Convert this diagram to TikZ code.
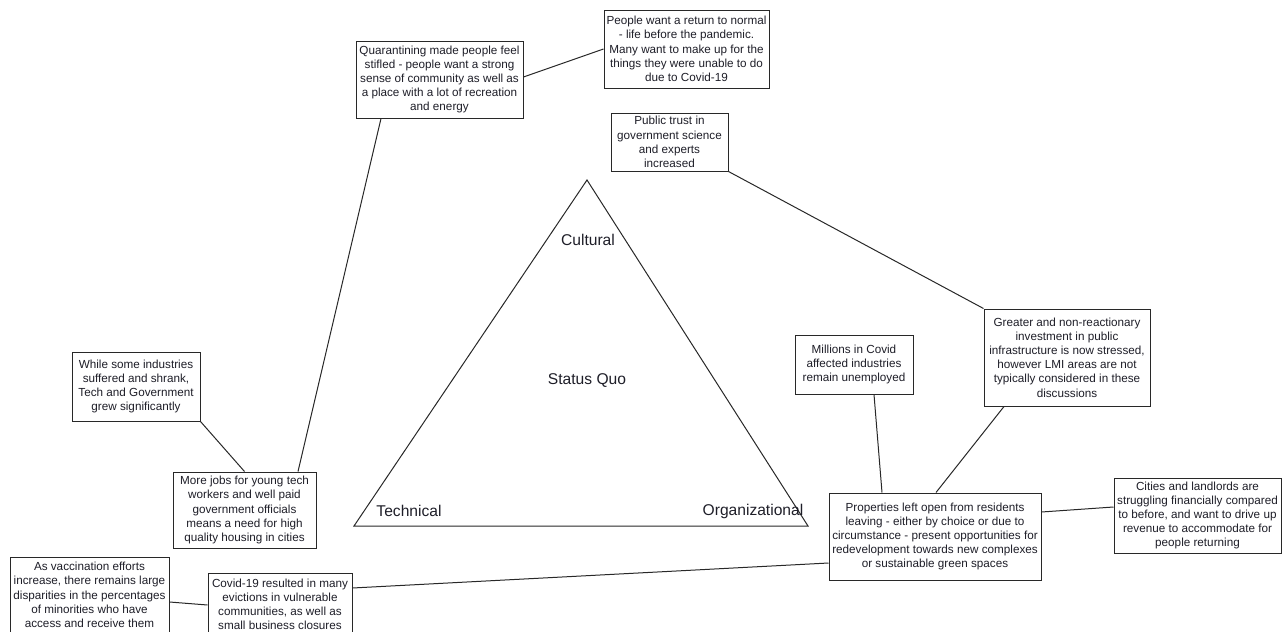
\documentclass[tikz,border=0pt]{standalone}
\usepackage{fontspec}
\setmainfont{Liberation Sans}
\begin{document}
\begin{tikzpicture}[x=1pt,y=-1pt,
  every node/.style={text=txt},
  box/.style={draw=edge,line width=1pt,fill=white,align=center,inner sep=0pt,
    font=\fontsize{11.7}{14.2}\selectfont},
  lbl/.style={font=\fontsize{15.6}{18}\selectfont,inner sep=0pt},
  conn/.style={draw=edge,line width=1pt}]
\definecolor{txt}{RGB}{30,30,40}
\definecolor{edge}{RGB}{40,40,40}
\useasboundingbox (0,0) rectangle (1283,632);
% triangle
\draw[conn] (354,526) -- (587,180) -- (808,526) -- cycle;
\node[lbl] (cul) at (588,240) {Cultural};
\node[lbl] (sq) at (587,381) {Status Quo};
\node[lbl] (tec) at (409,511) {Technical};
\node[lbl] (org) at (753,511) {Organizational};
% boxes
\node[box,minimum width=167pt,minimum height=77pt] (q) at (439.5,79.5)
  {Quarantining made people feel\\stifled - people want a strong\\sense of community as well as\\a place with a lot of recreation\\and energy};
\node[box,minimum width=165pt,minimum height=78pt] (p) at (686.5,49)
  {People want a return to normal\\- life before the pandemic.\\Many want to make up for the\\things they were unable to do\\due to Covid-19};
\node[box,minimum width=117pt,minimum height=58pt] (t) at (669.5,142)
  {Public trust in\\government science\\and experts\\increased};
\node[box,minimum width=128pt,minimum height=69pt] (w) at (136,386.5)
  {While some industries\\suffered and shrank,\\Tech and Government\\grew significantly};
\node[box,minimum width=143pt,minimum height=76pt] (m) at (244.5,510)
  {More jobs for young tech\\workers and well paid\\government officials\\means a need for high\\quality housing in cities};
\node[box,minimum width=159pt,minimum height=76pt] (v) at (89.5,595)
  {As vaccination efforts\\increase, there remains large\\disparities in the percentages\\of minorities who have\\access and receive them};
\node[box,minimum width=144pt,minimum height=63pt] (c) at (280,604.5)
  {Covid-19 resulted in many\\evictions in vulnerable\\communities, as well as\\small business closures};
\node[box,minimum width=118pt,minimum height=59pt] (mi) at (854,364.5)
  {Millions in Covid\\affected industries\\remain unemployed};
\node[box,minimum width=166pt,minimum height=97pt] (g) at (1067,357.5)
  {Greater and non-reactionary\\investment in public\\infrastructure is now stressed,\\however LMI areas are not\\typically considered in these\\discussions};
\node[box,minimum width=212pt,minimum height=87pt] (pr) at (935,536.5)
  {Properties left open from residents\\leaving - either by choice or due to\\circumstance - present opportunities for\\redevelopment towards new complexes\\or sustainable green spaces};
\node[box,minimum width=167pt,minimum height=75pt] (ci) at (1197.5,515.5)
  {Cities and landlords are\\struggling financially compared\\to before, and want to drive up\\revenue to accommodate for\\people returning};
% connectors
\draw[conn] (q.east |- 0,77) -- (p.west |- 0,49);
\draw[conn] (q.south -| 381,0) -- (m.north -| 298,0);
\draw[conn] (w.south east) -- (m.north);
\draw[conn] (t.south east) -- (g.north west);
\draw[conn] (mi.south -| 874,0) -- (pr.north -| 882,0);
\draw[conn] (g.south -| 1004,0) -- (pr.north -| 936,0);
\draw[conn] (ci.west |- 0,507) -- (pr.east |- 0,512);
\draw[conn] (pr.west |- 0,563) -- (c.east |- 0,588);
\draw[conn] (v.east |- 0,602) -- (c.west |- 0,605);
\end{tikzpicture}
\end{document}
